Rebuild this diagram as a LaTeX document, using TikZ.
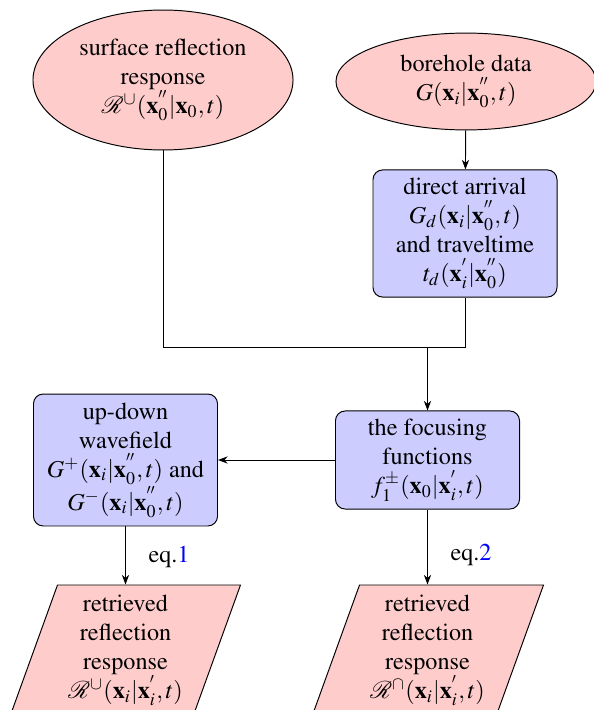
\documentclass[tikz,border=0pt]{standalone}
\usepackage{mathptmx}
\usepackage{mathrsfs}
\newcommand{\timesfont}{\fontencoding{OT1}\fontfamily{ptm}\selectfont}
\usetikzlibrary{shapes.geometric,arrows.meta}
\definecolor{pinkfill}{RGB}{255,204,204}
\definecolor{bluefill}{RGB}{204,204,255}
\tikzset{
  every node/.style={font=\timesfont},
  datanode/.style={ellipse,draw,fill=pinkfill,align=center,inner sep=0pt},
  procbox/.style={rectangle,rounded corners=4pt,draw,fill=bluefill,align=center,inner sep=0pt,minimum width=76pt},
  txtnode/.style={align=center,inner sep=0pt,minimum width=75pt,minimum height=53.7pt},
  conn/.style={-{Stealth[length=4pt,width=3pt]}},
  line/.style={draw}
}
\begin{document}
\begin{tikzpicture}[x=0.413pt,y=-0.413pt]
\useasboundingbox (0,0) rectangle (594,710);
\clip (0,0) rectangle (594,710);
% top data
\node[datanode,minimum width=107.4pt,minimum height=57.8pt] (surf) at (163,80)
  {surface reflection\\response\\$\mathscr{R}^{\cup}(\mathbf{x}_0^{''}|\mathbf{x}_0,t)$};
\node[datanode,minimum width=107.4pt,minimum height=40pt] (bore) at (466,81.5)
  {borehole data\\$G(\mathbf{x}_i|\mathbf{x}_0^{''},t)$};
% direct arrival
\node[procbox,minimum height=52.5pt] (direct) at (465,233.5)
  {direct arrival\\$G_d(\mathbf{x}_i|\mathbf{x}_0^{''},t)$\\and traveltime\\$t_d(\mathbf{x}_i^{'}|\mathbf{x}_0^{''})$};
% focusing
\node[procbox,minimum height=40.5pt] (focus) at (427.5,460)
  {the focusing\\functions\\$f_1^{\pm}(\mathbf{x}_0|\mathbf{x}_i^{'},t)$};
\node[procbox,minimum height=54.5pt] (updown) at (125.5,460)
  {up-down\\wavefield\\$G^{+}(\mathbf{x}_i|\mathbf{x}_0^{''},t)$ and\\$G^{-}(\mathbf{x}_i|\mathbf{x}_0^{''},t)$};
% parallelograms
\coordinate (j) at (300,347);
\filldraw[fill=pinkfill] (57.5,585) -- (240.5,585) -- (193.5,715) -- (10.5,715) -- cycle;
\filldraw[fill=pinkfill] (359.5,585) -- (543.5,585) -- (496.5,715) -- (312.5,715) -- cycle;
\node[txtnode] (ret1) at (125.5,650)
  {retrieved\\reflection\\response\\$\mathscr{R}^{\cup}(\mathbf{x}_i|\mathbf{x}_i^{'},t)$};
\node[txtnode] (ret2) at (427.5,650)
  {retrieved\\reflection\\response\\$\mathscr{R}^{\cap}(\mathbf{x}_i|\mathbf{x}_i^{'},t)$};
% connectors
\draw[conn] (bore) -- (direct);
\draw[line] (surf.south) -- (surf.south |- j) -| (direct.south);
\draw[conn] (focus.north |- j) -- (focus.north);
\draw[conn] (focus.west) -- (updown.east);
\draw[conn] (updown.south) -- node[right=6pt,pos=0.52] (eq1) {eq.\textcolor{blue}{1}} (ret1.north);
\draw[conn] (focus.south) -- node[right=6pt,pos=0.6] (eq2) {eq.\textcolor{blue}{2}} (ret2.north);
\end{tikzpicture}
\end{document}
